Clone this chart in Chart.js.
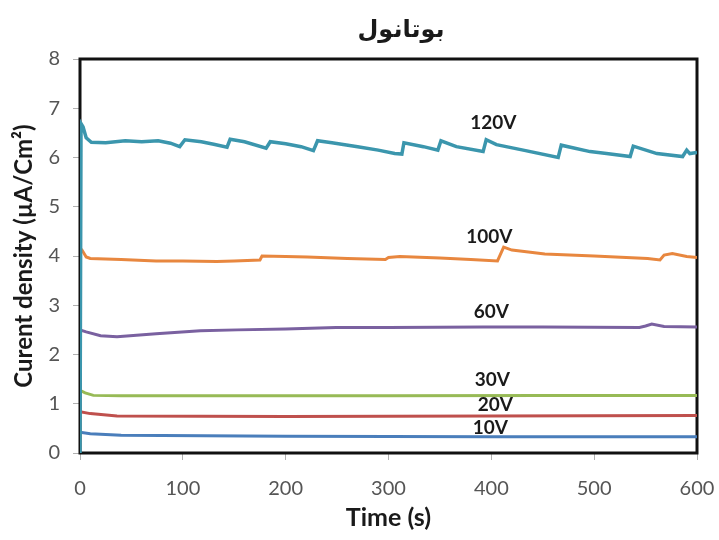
<!DOCTYPE html>
<html>

<head>
    <meta charset="utf-8">
    <script src="https://cdn.jsdelivr.net/npm/chart.js"></script>
    <style>
        body { margin: 0; background: #fff; }
        #wrap { width: 719px; height: 540px; }
    </style>
</head>

<body>
    <div id="wrap">
        <canvas id="myChart" width="719" height="540"></canvas>
    </div>
    <script>
        // title and series names
        const chartTitle = 'بوتانول';
        const seriesNames = ['120V', '100V', '60V', '30V', '20V', '10V'];

        // time (s) / current density (uA/cm2)
        const t120 = [0, 1, 3, 6, 11, 25, 44, 60, 76, 88, 97, 102, 118, 130, 143, 146, 160, 181, 185, 200, 215, 227, 231, 245, 270, 290, 306, 313, 315, 334, 348, 351, 366, 392, 395, 405, 431, 465, 468, 496, 512, 535, 538, 561, 586, 590, 593, 600];
        const v120 = [0, 6.69, 6.62, 6.40, 6.31, 6.30, 6.34, 6.32, 6.34, 6.29, 6.22, 6.36, 6.32, 6.27, 6.21, 6.37, 6.32, 6.19, 6.32, 6.28, 6.22, 6.14, 6.34, 6.30, 6.22, 6.15, 6.08, 6.07, 6.30, 6.22, 6.15, 6.34, 6.22, 6.12, 6.36, 6.26, 6.15, 6.00, 6.25, 6.12, 6.08, 6.02, 6.23, 6.08, 6.02, 6.15, 6.08, 6.10];

        const t100 = [0, 2, 6, 10, 40, 74, 100, 133, 150, 175, 177, 200, 221, 260, 297, 300, 311, 350, 380, 406, 412, 420, 432, 452, 500, 552, 564, 568, 576, 590, 600];
        const v100 = [4.16, 4.12, 3.98, 3.95, 3.93, 3.90, 3.90, 3.89, 3.90, 3.92, 4.00, 3.99, 3.98, 3.95, 3.93, 3.97, 3.99, 3.96, 3.93, 3.90, 4.18, 4.12, 4.09, 4.04, 4.00, 3.95, 3.92, 4.02, 4.05, 3.99, 3.97];

        const t60 = [0, 6, 20, 36, 74, 117, 153, 200, 249, 300, 392, 450, 544, 550, 556, 568, 600];
        const v60 = [2.50, 2.46, 2.38, 2.36, 2.42, 2.48, 2.50, 2.52, 2.55, 2.55, 2.56, 2.56, 2.55, 2.58, 2.62, 2.57, 2.56];

        const t30 = [0, 5, 13, 40, 300, 450, 600];
        const v30 = [1.27, 1.22, 1.17, 1.16, 1.16, 1.17, 1.17];

        const t20 = [0, 10, 36, 200, 400, 600];
        const v20 = [0.84, 0.80, 0.75, 0.74, 0.75, 0.76];

        const t10 = [0, 10, 40, 200, 400, 600];
        const v10 = [0.42, 0.39, 0.36, 0.34, 0.33, 0.33];

        // where the series names are written (time, value)
        const labelT = [402, 398, 400, 401, 404, 399];
        const labelV = [6.70, 4.39, 2.86, 1.48, 0.97, 0.51];

        const colors = ['#3B96AD', '#E8873F', '#7A61A0', '#97BA56', '#BF504D', '#4A7EBB'];

        const xs = [t120, t100, t60, t30, t20, t10];
        const ys = [v120, v100, v60, v30, v20, v10];

        const datasets = seriesNames.map((name, i) => ({
            label: name,
            data: xs[i].map((t, j) => ({ x: t, y: ys[i][j] })),
            borderColor: colors[i],
            borderWidth: i == 0 ? 3.5 : 3,
            pointRadius: 0,
            fill: false,
            tension: 0
        }));

        // black box round the plot
        const frame = {
            id: 'frame',
            beforeDatasetsDraw(chart) {
                const a = chart.chartArea, ctx = chart.ctx;
                ctx.save();
                ctx.strokeStyle = '#111';
                ctx.lineWidth = 3;
                ctx.strokeRect(a.left, a.top, a.right - a.left, a.bottom - a.top);
                ctx.restore();
            }
        };

        // series names and the title
        const texts = {
            id: 'texts',
            afterDatasetsDraw(chart) {
                const ctx = chart.ctx, x = chart.scales.x, y = chart.scales.y;
                ctx.save();
                ctx.fillStyle = '#1a1a1a';
                ctx.textAlign = 'center';
                ctx.textBaseline = 'middle';
                ctx.font = 'bold 19px Lato';
                seriesNames.forEach((n, i) => {
                    ctx.fillText(n, x.getPixelForValue(labelT[i]), y.getPixelForValue(labelV[i]));
                });
                ctx.font = 'bold 24px "DejaVu Sans"';
                ctx.fillText(chartTitle, 401, 31);
                ctx.restore();
            }
        };

        const config = {
            type: 'line',
            data: { datasets: datasets },
            options: {
                responsive: false,
                animation: false,
                layout: { padding: { top: 59, right: 22, left: 0, bottom: 0 } },
                plugins: {
                    legend: { display: false },
                    tooltip: { enabled: false }
                },
                scales: {
                    x: {
                        type: 'linear',
                        min: 0,
                        max: 600,
                        afterFit(s) { s.height = 87; s.paddingRight = 0; s.paddingLeft = 0; },
                        border: { display: false },
                        grid: { drawOnChartArea: false, tickLength: 7, color: '#b0b0b0' },
                        ticks: { stepSize: 100, padding: 17, color: '#555', font: { family: 'Lato', size: 20 } },
                        title: { display: true, text: 'Time (s)', color: '#1a1a1a', font: { family: 'Lato', size: 25, weight: 'bold' }, padding: { top: 0, bottom: 7 } }
                    },
                    y: {
                        min: 0,
                        max: 8,
                        afterFit(s) { s.width = 80; },
                        border: { display: false },
                        grid: { drawOnChartArea: false, tickLength: 7, color: '#b0b0b0' },
                        ticks: { stepSize: 1, padding: 13, color: '#555', font: { family: 'Lato', size: 20 } },
                        title: { display: true, text: 'Curent density (µA/Cm²)', color: '#1a1a1a', font: { family: 'Lato', size: 24, weight: 'bold' }, padding: { top: 10, bottom: 0 } }
                    }
                }
            },
            plugins: [frame, texts]
        };

        const myChart = new Chart(document.getElementById('myChart'), config);
    </script>
</body>

</html>
